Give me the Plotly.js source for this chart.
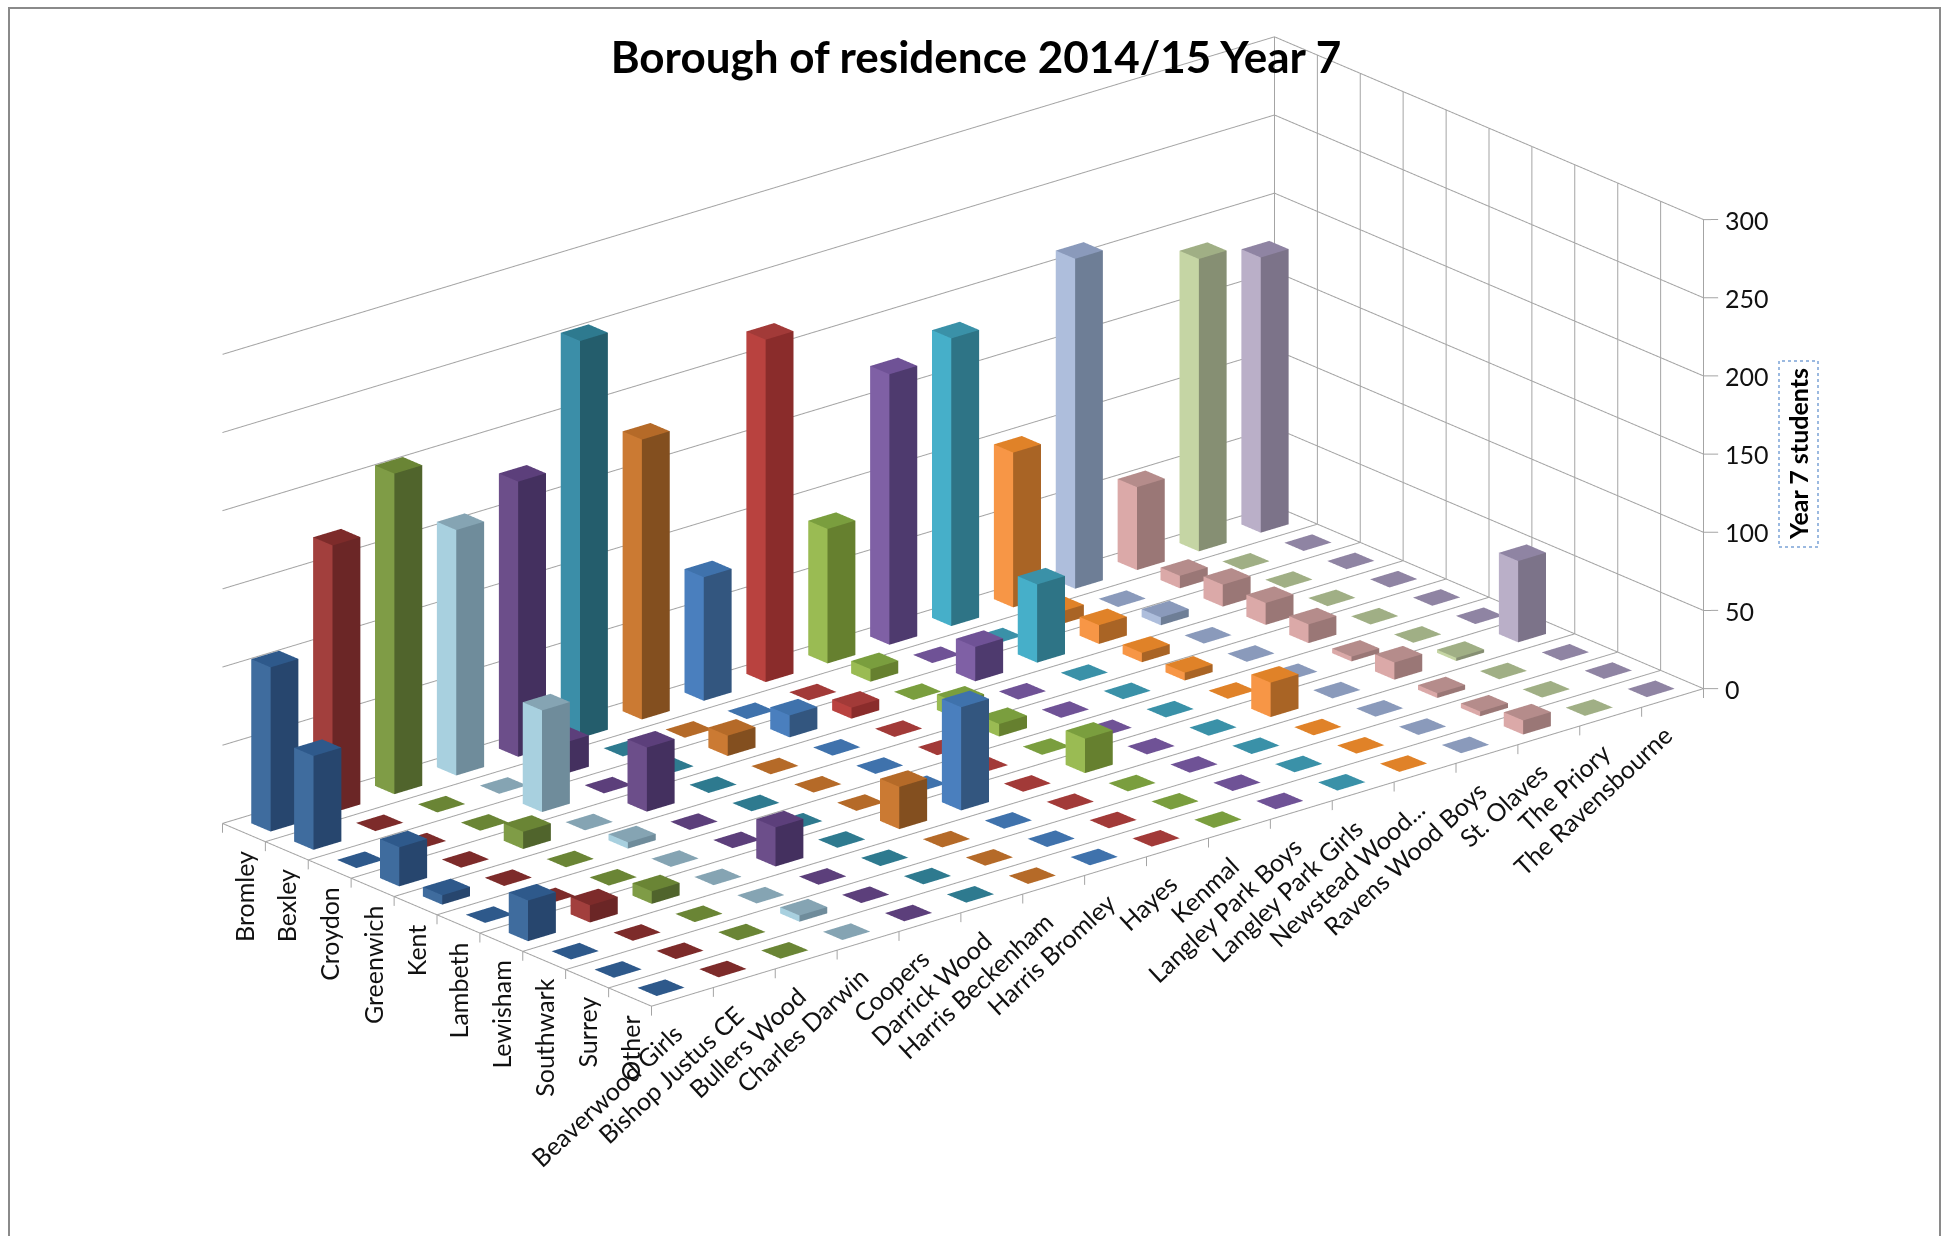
<!DOCTYPE html>
<html><head><meta charset="utf-8">
<script src="https://cdn.plot.ly/plotly-3.0.1.min.js"></script>
<style>html,body{margin:0;padding:0;background:#fff;overflow:hidden}#chart{width:1950px;height:1236px}</style>
</head><body><div id="chart"></div>
<script>
const schools=["Beaverwood Girls","Bishop Justus CE","Bullers Wood","Charles Darwin","Coopers","Darrick Wood","Harris Beckenham","Harris Bromley","Hayes","Kenmal","Langley Park Boys","Langley Park Girls","Newstead Wood...","Ravens Wood Boys","St. Olaves","The Priory","The Ravensbourne"];
const boroughs=["Bromley","Bexley","Croydon","Greenwich","Kent","Lambeth","Lewisham","Southwark","Surrey","Other"];
const zTicks=[0,50,100,150,200,250,300];
const Bromley  =[105,171,205,157,176,254,179,79,219,86,173,184,99,211,53,187,176];
const Bexley   =[60,0,0,0,20,0,0,0,0,8,0,0,8,0,8,0,0];
const Croydon  =[0,0,0,65,0,0,13,14,7,0,22,50,12,5,14,0,0];
const Greenwich=[25,0,11,0,41,0,0,0,0,10,0,0,6,0,14,0,0];
const Kent     =[6,0,0,4,0,0,0,0,0,8,0,0,5,0,12,0,0];
const Lambeth  =[0,0,0,0,0,0,0,0,0,0,0,0,0,0,3,0,0];
const Lewisham =[26,11,8,0,25,0,27,66,0,22,0,0,22,0,11,2,52];
const Southwark=[0,0,0,0,0,0,0,0,0,0,0,0,0,0,3,0,0];
const Surrey   =[0,0,0,4,0,0,0,0,0,0,0,0,0,0,3,0,0];
const Other    =[0,0,0,0,0,0,0,0,0,0,0,0,0,0,9,0,0];
const rows=[Bromley,Bexley,Croydon,Greenwich,Kent,Lambeth,Lewisham,Southwark,Surrey,Other];
const leftColors =["#3F6C9E","#A23F3D","#7F9C46","#A8D0DF","#6C4E8A","#3B8EA8","#CB7A33","#4A7FBE","#B9423F","#9ABB53","#7F60A5","#46AFC9","#F79646","#AEBEDC","#DBA9A8","#C5D5A4","#BAAFC8"];
const rightColors=["#27466E","#6B2626","#50642C","#6F8C9B","#44305F","#245D6C","#834F1F","#33567F","#8A2C2B","#66802F","#4E3A6E","#2E7486","#A96425","#6E7E96","#9A7776","#868F73","#7C7389"];
const topColors  =["#2E598B","#7D2B2A","#6A8535","#85A4B3","#5C3F7B","#2E7A8F","#B56A28","#3F72AC","#A23A38","#7A9E3E","#6F5296","#3A91A8","#E08228","#8A9ABB","#B58C8B","#A0AF85","#8F84A3"];
const barFrac=0.45, gridColor="#a4a4a4";
const fontName="Lato, 'Open Sans', sans-serif";

const traces=[];
schools.forEach((name,s)=>{
  const x=[],y=[],z=[],i=[],j=[],k=[],fc=[];
  const h=barFrac/2;
  boroughs.forEach((b,bi)=>{
    const v=rows[bi][s], cx=s+0.5, cy=9.5-bi, n=x.length;
    [[-h,-h,0],[h,-h,0],[h,h,0],[-h,h,0],[-h,-h,v],[h,-h,v],[h,h,v],[-h,h,v]].forEach(p=>{
      x.push(cx+p[0]);y.push(cy+p[1]);z.push(p[2]);
    });
    const quad=(a,b2,c,d,col)=>{i.push(n+a,n+a);j.push(n+b2,n+c);k.push(n+c,n+d);fc.push(col,col);};
    quad(4,5,6,7,topColors[s]);
    if(v>0){
      quad(0,3,7,4,leftColors[s]);
      quad(0,1,5,4,rightColors[s]);
    }
  });
  traces.push({type:"mesh3d",name,x,y,z,i,j,k,facecolor:fc,flatshading:true,
    lighting:{ambient:1,diffuse:0,specular:0,fresnel:0,roughness:1},hoverinfo:"skip",showscale:false});
});

const gx=[],gy=[],gz=[];
const seg=(a,b)=>{gx.push(a[0],b[0],null);gy.push(a[1],b[1],null);gz.push(a[2],b[2],null);};
zTicks.forEach(t=>{seg([0,10,t],[17,10,t]);seg([17,10,t],[17,0,t]);seg([17,0,t],[17.14,-0.14,t]);});
for(let b=0;b<=10;b++){seg([0,b,0],[17,b,0]);seg([17,b,0],[17,b,300]);seg([0,b,0],[0,b,-6]);}
seg([0,0,0],[0,10,0]);
seg([0,0,0],[17,0,0]);
for(let s=0;s<=17;s++)seg([s,0,0],[s,0,-6]);
traces.push({type:"scatter3d",mode:"lines",x:gx,y:gy,z:gz,line:{color:gridColor,width:2},hoverinfo:"skip",showlegend:false});

const ann=[];
boroughs.forEach((b,bi)=>ann.push({x:0,y:9.5-bi,z:0,text:b,textangle:-90,showarrow:false,xanchor:"center",yanchor:"top",yshift:-16,font:{family:fontName,size:25,color:"#111"}}));
schools.forEach((n,s)=>ann.push({x:s+0.5,y:0,z:0,text:n,textangle:-43,showarrow:false,xanchor:"right",yanchor:"top",yshift:-18,xshift:8,font:{family:fontName,size:25,color:"#111"}}));
zTicks.forEach(t=>ann.push({x:17,y:0,z:t,text:String(t),showarrow:false,xanchor:"left",yanchor:"middle",xshift:20,font:{family:fontName,size:25,color:"#111"}}));

const d=1.739;
const layout={
  width:1950,height:1236,margin:{l:0,r:0,t:0,b:0},paper_bgcolor:"#fff",showlegend:false,
  title:{text:"<b>Borough of residence 2014/15 Year 7</b>",x:0.5005,xanchor:"center",y:0.953,yanchor:"middle",font:{family:fontName,size:44,color:"#000"}},
  scene:{
    domain:{x:[0.0076,0.98],y:[0.156,1]},
    aspectmode:"manual",aspectratio:{x:2.947,y:1.533,z:1.092},
    camera:{projection:{type:"orthographic"},up:{x:0,y:0,z:1},center:{x:0,y:0,z:0},
      eye:{x:-0.601*d,y:-0.714*d,z:0.3585*d}},
    xaxis:{visible:false,range:[-1,18]},yaxis:{visible:false,range:[-1,11]},zaxis:{visible:false,range:[-20,320]},
    bgcolor:"#fff",annotations:ann
  },
  annotations:[{xref:"paper",yref:"paper",x:1798/1950,y:1-454/1236,text:"<b>Year 7 students</b>",textangle:-90,showarrow:false,xanchor:"center",yanchor:"middle",font:{family:fontName,size:25,color:"#000"}}],
  shapes:[
    {type:"rect",xref:"paper",yref:"paper",x0:1779/1950,x1:1818/1950,y0:1-547/1236,y1:1-361/1236,line:{color:"#7ba3d6",width:1.5,dash:"dot"}},
    {type:"path",xref:"paper",yref:"paper",path:"M "+(9/1950)+" 0 L "+(9/1950)+" "+(1-8/1236)+" L "+(1940/1950)+" "+(1-8/1236)+" L "+(1940/1950)+" 0",line:{color:"#8a8a8a",width:2}}
  ]
};
Plotly.newPlot("chart",traces,layout,{displayModeBar:false});
</script></body></html>
